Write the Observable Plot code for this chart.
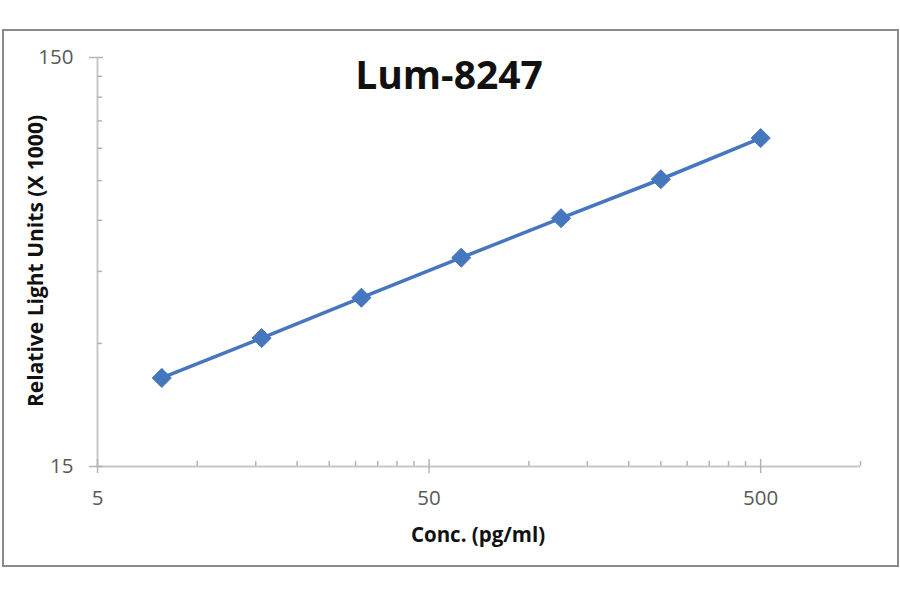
<!DOCTYPE html>
<html>
<head>
<meta charset="utf-8">
<script src="https://cdn.jsdelivr.net/npm/d3@7"></script>
<script src="https://cdn.jsdelivr.net/npm/@observablehq/plot@0.6"></script>
<style>
  html, body { margin: 0; padding: 0; background: #fff; }
  #wrap { position: relative; width: 900px; height: 594px; font-family: "Open Sans", sans-serif; }
  #frame { position: absolute; left: 2px; top: 29px; width: 893px; height: 534px; border: 2px solid #8a8a8a; box-sizing: content-box; pointer-events: none; }
  .lbl { position: absolute; white-space: nowrap; line-height: 1; font-weight: 700; color: #111; }
  #title { left: 449px; top: 54px; font-size: 39px; transform: translateX(-50%); }
  #xlabel { left: 478px; top: 524px; font-size: 20.5px; transform: translateX(-50%); }
  #ylabel { left: 35px; top: 261px; font-size: 21px; transform: translate(-50%, -50%) rotate(-90deg); }
  svg { position: absolute; left: 0; top: 0; }
</style>
</head>
<body>
<div id="wrap">
  <div id="chart"></div>
  <div id="frame"></div>
  <div class="lbl" id="title">Lum-8247</div>
  <div class="lbl" id="xlabel">Conc. (pg/ml)</div>
  <div class="lbl" id="ylabel">Relative Light Units (X 1000)</div>
</div>
<script>
const concentrations = [7.8125, 15.625, 31.25, 62.5, 125, 250, 500];
const rlu = [24.7, 30.9, 38.8, 48.6, 60.7, 75.6, 95.3];
const xDomain = [5, 1000];
const yDomain = [15, 150];
const xMajorTicks = [5, 50, 500];
const xMinorTicks = [10, 15, 20, 25, 30, 35, 40, 45, 100, 150, 200, 250, 300, 350, 400, 450, 1000];
const yMajorTicks = [15, 150];
const yMinorTicks = [30, 45, 60, 75, 90, 105, 120, 135];

const data = concentrations.map((c, i) => ({conc: c, rlu: rlu[i]}));
const tickColor = "#b4b4b4";
const axisColor = "#c8c8c8";
const labelColor = "#595959";

const chart = Plot.plot({
  width: 900,
  height: 594,
  marginLeft: 97,
  marginRight: 40,
  marginTop: 57,
  marginBottom: 128,
  style: {fontFamily: "Open Sans, sans-serif", fontSize: "20.5px", background: "transparent", overflow: "visible"},
  x: {type: "log", domain: xDomain, axis: null},
  y: {type: "log", domain: yDomain, axis: null},
  marks: [
    Plot.ruleY([yDomain[0]], {stroke: axisColor, strokeWidth: 2}),
    Plot.ruleX([xDomain[0]], {stroke: axisColor, strokeWidth: 2}),
    // minor ticks (inside)
    Plot.axisX(xMinorTicks, {anchor: "bottom", tickSize: -5, stroke: tickColor, strokeWidth: 1.5, fill: "none", label: null}),
    Plot.axisY(yMinorTicks, {anchor: "left", tickSize: -5, stroke: tickColor, strokeWidth: 1.5, fill: "none", label: null}),
    // major ticks (crossing)
    Plot.axisX(xMajorTicks, {anchor: "bottom", tickSize: 7, stroke: tickColor, strokeWidth: 1.5, fill: "none", label: null}),
    Plot.axisX(xMajorTicks, {anchor: "bottom", tickSize: -7, stroke: tickColor, strokeWidth: 1.5, fill: "none", label: null}),
    Plot.axisY(yMajorTicks, {anchor: "left", tickSize: 8, stroke: tickColor, strokeWidth: 1.5, fill: "none", label: null}),
    Plot.axisY(yMajorTicks, {anchor: "left", tickSize: -6, stroke: tickColor, strokeWidth: 1.5, fill: "none", label: null}),
    // tick labels
    Plot.text(xMajorTicks, {x: d => d, frameAnchor: "bottom", dy: 32, lineAnchor: "middle", textAnchor: "middle", fill: labelColor, text: d => String(d)}),
    Plot.text(yMajorTicks, {y: d => d, frameAnchor: "left", dx: -24, lineAnchor: "middle", textAnchor: "end", fill: labelColor, text: d => String(d)}),
    // data
    Plot.line(data, {x: "conc", y: "rlu", stroke: "#4677be", strokeWidth: 3.6}),
    Plot.dot(data, {x: "conc", y: "rlu", symbol: "diamond2", r: 8.6, fill: "#4677be", stroke: "#4677be", strokeWidth: 1})
  ]
});
document.getElementById("chart").appendChild(chart);
</script>
</body>
</html>
